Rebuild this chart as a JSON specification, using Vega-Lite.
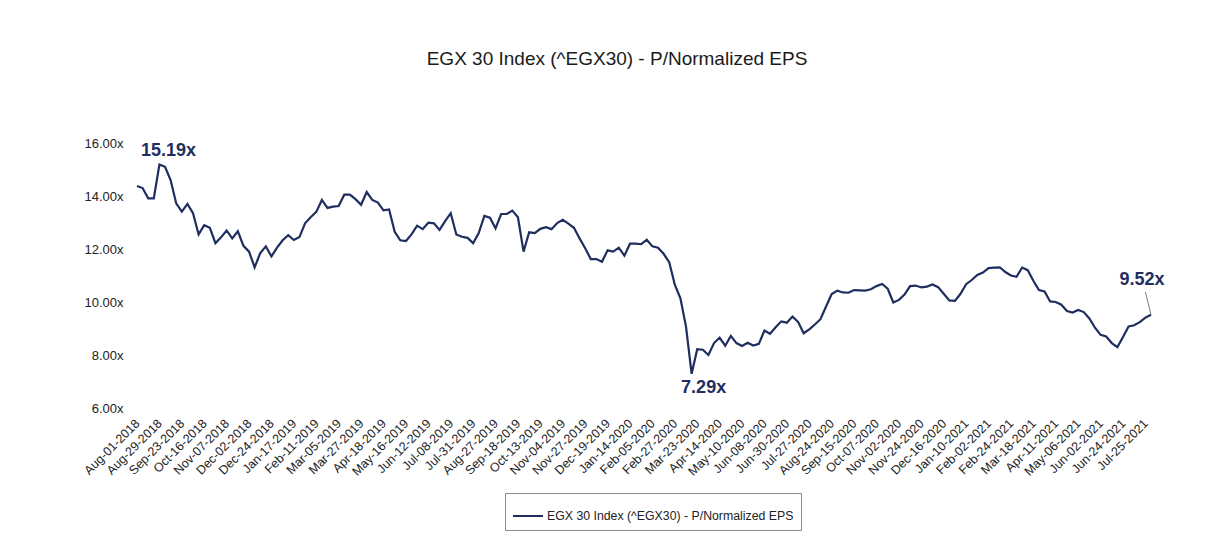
{
  "$schema": "https://vega.github.io/schema/vega-lite/v6.json",
  "width": 1014,
  "height": 265,
  "autosize": {"type": "none"},
  "padding": {"left": 137, "top": 143, "right": 75, "bottom": 130},
  "background": "white",
  "config": {"view": {"stroke": null}, "font": "Liberation Sans"},
  "title": {
    "text": "EGX 30 Index (^EGX30) - P/Normalized EPS",
    "fontSize": 19,
    "fontWeight": "normal",
    "font": "Liberation Sans",
    "color": "#1a1a1a",
    "anchor": "middle",
    "frame": "group",
    "dx": -27,
    "offset": 51
  },
  "data": {
    "values": [
      {"date": "Aug-01-2018", "pe": 14.38}, {"date": "Aug-08-2018", "pe": 14.30}, {"date": "Aug-15-2018", "pe": 13.91}, {"date": "Aug-22-2018", "pe": 13.91},
      {"date": "Aug-29-2018", "pe": 15.19}, {"date": "Sep-04-2018", "pe": 15.10}, {"date": "Sep-10-2018", "pe": 14.60}, {"date": "Sep-17-2018", "pe": 13.72},
      {"date": "Sep-23-2018", "pe": 13.41}, {"date": "Sep-29-2018", "pe": 13.70}, {"date": "Oct-04-2018", "pe": 13.35}, {"date": "Oct-10-2018", "pe": 12.55},
      {"date": "Oct-16-2018", "pe": 12.90}, {"date": "Oct-22-2018", "pe": 12.80}, {"date": "Oct-28-2018", "pe": 12.22}, {"date": "Nov-01-2018", "pe": 12.44},
      {"date": "Nov-07-2018", "pe": 12.70}, {"date": "Nov-13-2018", "pe": 12.40}, {"date": "Nov-19-2018", "pe": 12.67}, {"date": "Nov-26-2018", "pe": 12.12},
      {"date": "Dec-02-2018", "pe": 11.90}, {"date": "Dec-08-2018", "pe": 11.31}, {"date": "Dec-13-2018", "pe": 11.85}, {"date": "Dec-18-2018", "pe": 12.10},
      {"date": "Dec-24-2018", "pe": 11.72}, {"date": "Dec-30-2018", "pe": 12.05}, {"date": "Jan-05-2019", "pe": 12.33}, {"date": "Jan-11-2019", "pe": 12.52},
      {"date": "Jan-17-2019", "pe": 12.34}, {"date": "Jan-23-2019", "pe": 12.45}, {"date": "Jan-29-2019", "pe": 12.97}, {"date": "Feb-05-2019", "pe": 13.20},
      {"date": "Feb-11-2019", "pe": 13.40}, {"date": "Feb-16-2019", "pe": 13.85}, {"date": "Feb-22-2019", "pe": 13.55}, {"date": "Feb-27-2019", "pe": 13.60},
      {"date": "Mar-05-2019", "pe": 13.62}, {"date": "Mar-10-2019", "pe": 14.05}, {"date": "Mar-16-2019", "pe": 14.05}, {"date": "Mar-21-2019", "pe": 13.88},
      {"date": "Mar-27-2019", "pe": 13.67}, {"date": "Apr-01-2019", "pe": 14.15}, {"date": "Apr-07-2019", "pe": 13.85}, {"date": "Apr-12-2019", "pe": 13.75},
      {"date": "Apr-18-2019", "pe": 13.46}, {"date": "Apr-25-2019", "pe": 13.49}, {"date": "May-02-2019", "pe": 12.65}, {"date": "May-09-2019", "pe": 12.33},
      {"date": "May-16-2019", "pe": 12.30}, {"date": "May-23-2019", "pe": 12.55}, {"date": "May-30-2019", "pe": 12.88}, {"date": "Jun-05-2019", "pe": 12.75},
      {"date": "Jun-12-2019", "pe": 12.99}, {"date": "Jun-18-2019", "pe": 12.97}, {"date": "Jun-25-2019", "pe": 12.72}, {"date": "Jul-01-2019", "pe": 13.05},
      {"date": "Jul-08-2019", "pe": 13.35}, {"date": "Jul-13-2019", "pe": 12.55}, {"date": "Jul-19-2019", "pe": 12.46}, {"date": "Jul-25-2019", "pe": 12.42},
      {"date": "Jul-31-2019", "pe": 12.22}, {"date": "Aug-07-2019", "pe": 12.60}, {"date": "Aug-14-2019", "pe": 13.25}, {"date": "Aug-20-2019", "pe": 13.18},
      {"date": "Aug-27-2019", "pe": 12.78}, {"date": "Sep-01-2019", "pe": 13.32}, {"date": "Sep-07-2019", "pe": 13.32}, {"date": "Sep-12-2019", "pe": 13.45},
      {"date": "Sep-18-2019", "pe": 13.20}, {"date": "Sep-24-2019", "pe": 11.90}, {"date": "Sep-30-2019", "pe": 12.63}, {"date": "Oct-07-2019", "pe": 12.60},
      {"date": "Oct-13-2019", "pe": 12.76}, {"date": "Oct-18-2019", "pe": 12.82}, {"date": "Oct-24-2019", "pe": 12.75}, {"date": "Oct-29-2019", "pe": 12.98},
      {"date": "Nov-04-2019", "pe": 13.10}, {"date": "Nov-09-2019", "pe": 12.96}, {"date": "Nov-15-2019", "pe": 12.80}, {"date": "Nov-21-2019", "pe": 12.40},
      {"date": "Nov-27-2019", "pe": 12.03}, {"date": "Dec-02-2019", "pe": 11.62}, {"date": "Dec-08-2019", "pe": 11.62}, {"date": "Dec-13-2019", "pe": 11.52},
      {"date": "Dec-19-2019", "pe": 11.95}, {"date": "Dec-25-2019", "pe": 11.90}, {"date": "Dec-31-2019", "pe": 12.05}, {"date": "Jan-07-2020", "pe": 11.75},
      {"date": "Jan-14-2020", "pe": 12.20}, {"date": "Jan-19-2020", "pe": 12.20}, {"date": "Jan-25-2020", "pe": 12.18}, {"date": "Jan-30-2020", "pe": 12.35},
      {"date": "Feb-05-2020", "pe": 12.10}, {"date": "Feb-10-2020", "pe": 12.05}, {"date": "Feb-16-2020", "pe": 11.82}, {"date": "Feb-21-2020", "pe": 11.50},
      {"date": "Feb-27-2020", "pe": 10.65}, {"date": "Mar-04-2020", "pe": 10.14}, {"date": "Mar-10-2020", "pe": 9.07}, {"date": "Mar-17-2020", "pe": 7.29},
      {"date": "Mar-23-2020", "pe": 8.22}, {"date": "Mar-28-2020", "pe": 8.20}, {"date": "Apr-03-2020", "pe": 8.00}, {"date": "Apr-08-2020", "pe": 8.45},
      {"date": "Apr-14-2020", "pe": 8.65}, {"date": "Apr-20-2020", "pe": 8.35}, {"date": "Apr-27-2020", "pe": 8.72}, {"date": "May-03-2020", "pe": 8.45},
      {"date": "May-10-2020", "pe": 8.34}, {"date": "May-17-2020", "pe": 8.46}, {"date": "May-24-2020", "pe": 8.36}, {"date": "Jun-01-2020", "pe": 8.42},
      {"date": "Jun-08-2020", "pe": 8.92}, {"date": "Jun-13-2020", "pe": 8.80}, {"date": "Jun-19-2020", "pe": 9.05}, {"date": "Jun-24-2020", "pe": 9.27},
      {"date": "Jun-30-2020", "pe": 9.22}, {"date": "Jul-06-2020", "pe": 9.45}, {"date": "Jul-13-2020", "pe": 9.25}, {"date": "Jul-20-2020", "pe": 8.82},
      {"date": "Jul-27-2020", "pe": 8.97}, {"date": "Aug-03-2020", "pe": 9.15}, {"date": "Aug-10-2020", "pe": 9.35}, {"date": "Aug-17-2020", "pe": 9.83},
      {"date": "Aug-24-2020", "pe": 10.30}, {"date": "Aug-29-2020", "pe": 10.43}, {"date": "Sep-04-2020", "pe": 10.36}, {"date": "Sep-09-2020", "pe": 10.35},
      {"date": "Sep-15-2020", "pe": 10.45}, {"date": "Sep-20-2020", "pe": 10.44}, {"date": "Sep-26-2020", "pe": 10.43}, {"date": "Oct-01-2020", "pe": 10.48},
      {"date": "Oct-07-2020", "pe": 10.60}, {"date": "Oct-13-2020", "pe": 10.68}, {"date": "Oct-20-2020", "pe": 10.50}, {"date": "Oct-26-2020", "pe": 9.98},
      {"date": "Nov-02-2020", "pe": 10.08}, {"date": "Nov-07-2020", "pe": 10.28}, {"date": "Nov-13-2020", "pe": 10.60}, {"date": "Nov-18-2020", "pe": 10.62},
      {"date": "Nov-24-2020", "pe": 10.55}, {"date": "Nov-29-2020", "pe": 10.58}, {"date": "Dec-05-2020", "pe": 10.66}, {"date": "Dec-10-2020", "pe": 10.56},
      {"date": "Dec-16-2020", "pe": 10.31}, {"date": "Dec-22-2020", "pe": 10.06}, {"date": "Dec-28-2020", "pe": 10.04}, {"date": "Jan-04-2021", "pe": 10.31},
      {"date": "Jan-10-2021", "pe": 10.67}, {"date": "Jan-15-2021", "pe": 10.83}, {"date": "Jan-21-2021", "pe": 11.02}, {"date": "Jan-27-2021", "pe": 11.11},
      {"date": "Feb-02-2021", "pe": 11.28}, {"date": "Feb-07-2021", "pe": 11.30}, {"date": "Feb-13-2021", "pe": 11.31}, {"date": "Feb-18-2021", "pe": 11.13},
      {"date": "Feb-24-2021", "pe": 11.00}, {"date": "Mar-01-2021", "pe": 10.95}, {"date": "Mar-07-2021", "pe": 11.30}, {"date": "Mar-12-2021", "pe": 11.20},
      {"date": "Mar-18-2021", "pe": 10.80}, {"date": "Mar-24-2021", "pe": 10.45}, {"date": "Mar-30-2021", "pe": 10.40}, {"date": "Apr-05-2021", "pe": 10.02},
      {"date": "Apr-11-2021", "pe": 10.00}, {"date": "Apr-17-2021", "pe": 9.90}, {"date": "Apr-23-2021", "pe": 9.66}, {"date": "Apr-29-2021", "pe": 9.60},
      {"date": "May-06-2021", "pe": 9.70}, {"date": "May-12-2021", "pe": 9.62}, {"date": "May-19-2021", "pe": 9.38}, {"date": "May-26-2021", "pe": 9.03},
      {"date": "Jun-02-2021", "pe": 8.76}, {"date": "Jun-07-2021", "pe": 8.70}, {"date": "Jun-13-2021", "pe": 8.45}, {"date": "Jun-18-2021", "pe": 8.30},
      {"date": "Jun-24-2021", "pe": 8.68}, {"date": "Jul-01-2021", "pe": 9.08}, {"date": "Jul-08-2021", "pe": 9.12}, {"date": "Jul-16-2021", "pe": 9.24},
      {"date": "Jul-25-2021", "pe": 9.41}, {"date": "Aug-01-2021", "pe": 9.52}
    ]
  },
  "encoding": {
    "x": {
      "field": "date",
      "type": "ordinal",
      "sort": null,
      "scale": {"type": "point", "padding": 0},
      "axis": {
        "title": null,
        "values": ["Aug-01-2018", "Aug-29-2018", "Sep-23-2018", "Oct-16-2018", "Nov-07-2018", "Dec-02-2018", "Dec-24-2018", "Jan-17-2019", "Feb-11-2019", "Mar-05-2019", "Mar-27-2019", "Apr-18-2019", "May-16-2019", "Jun-12-2019", "Jul-08-2019", "Jul-31-2019", "Aug-27-2019", "Sep-18-2019", "Oct-13-2019", "Nov-04-2019", "Nov-27-2019", "Dec-19-2019", "Jan-14-2020", "Feb-05-2020", "Feb-27-2020", "Mar-23-2020", "Apr-14-2020", "May-10-2020", "Jun-08-2020", "Jun-30-2020", "Jul-27-2020", "Aug-24-2020", "Sep-15-2020", "Oct-07-2020", "Nov-02-2020", "Nov-24-2020", "Dec-16-2020", "Jan-10-2021", "Feb-02-2021", "Feb-24-2021", "Mar-18-2021", "Apr-11-2021", "May-06-2021", "Jun-02-2021", "Jun-24-2021", "Jul-25-2021"],
        "labelAngle": -45,
        "labelAlign": "right",
        "labelBaseline": "middle",
        "labelFontSize": 12.5,
        "labelFont": "Liberation Sans",
        "labelColor": "#222222",
        "labelPadding": 13,
        "labelOverlap": false,
        "labelBound": false,
        "labelFlush": false,
        "domain": false,
        "ticks": false,
        "grid": false
      }
    },
    "y": {
      "field": "pe",
      "type": "quantitative",
      "scale": {"domain": [6, 16], "nice": false, "zero": false},
      "axis": {
        "title": null,
        "values": [6, 8, 10, 12, 14, 16],
        "labelExpr": "format(datum.value, '.2f') + 'x'",
        "labelFontSize": 13,
        "labelFont": "Liberation Sans",
        "labelColor": "#222222",
        "labelPadding": 14,
        "labelFlush": false,
        "domain": false,
        "ticks": false,
        "grid": false
      }
    }
  },
  "layer": [
    {
      "mark": {"type": "line", "strokeWidth": 2.2},
      "encoding": {
        "color": {
          "datum": "EGX 30 Index (^EGX30) - P/Normalized EPS",
          "type": "nominal",
          "scale": {"range": ["#1F2D5F"]},
          "legend": {
            "title": null,
            "orient": "none",
            "legendX": 368,
            "legendY": 350,
            "symbolType": "stroke",
            "symbolSize": 900,
            "symbolStrokeWidth": 2,
            "labelFontSize": 12.3,
            "labelFont": "Liberation Sans",
            "labelColor": "#222222",
            "labelLimit": 0,
            "labelOffset": 3,
            "padding": 7,
            "strokeColor": "#8c8c8c",
            "fillColor": "white"
          }
        }
      }
    },
    {
      "mark": {"type": "rule", "color": "#808080", "strokeWidth": 1},
      "encoding": {
        "x2": {"datum": "Jul-25-2021"},
        "y2": {"datum": 10.38},
        "opacity": {"condition": {"test": "datum.date === 'Aug-01-2021'", "value": 1}, "value": 0}
      }
    },
    {
      "mark": {"type": "text", "fontSize": 18, "fontWeight": "bold", "font": "Liberation Sans", "color": "#1F2D5F", "dx": 9, "dy": -13},
      "encoding": {"text": {"condition": {"test": "datum.date === 'Aug-29-2018'", "value": "15.19x"}, "value": ""}}
    },
    {
      "mark": {"type": "text", "fontSize": 18, "fontWeight": "bold", "font": "Liberation Sans", "color": "#1F2D5F", "dx": 12, "dy": 14},
      "encoding": {"text": {"condition": {"test": "datum.date === 'Mar-17-2020'", "value": "7.29x"}, "value": ""}}
    },
    {
      "mark": {"type": "text", "fontSize": 18, "fontWeight": "bold", "font": "Liberation Sans", "color": "#1F2D5F", "dx": -9, "dy": -35},
      "encoding": {"text": {"condition": {"test": "datum.date === 'Aug-01-2021'", "value": "9.52x"}, "value": ""}}
    }
  ]
}
